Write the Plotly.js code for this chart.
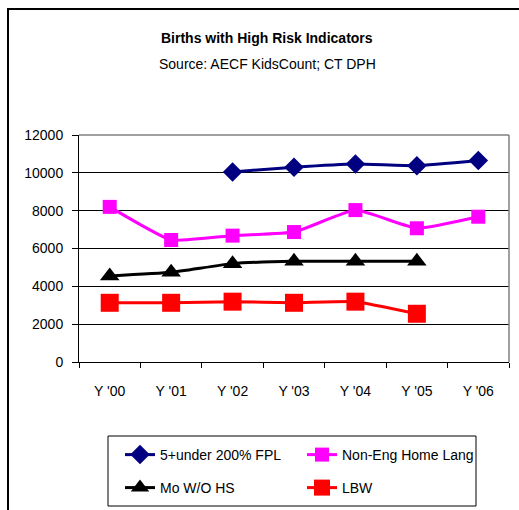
<!DOCTYPE html>
<html><head><meta charset="utf-8">
<script src="https://cdn.plot.ly/plotly-3.0.1.min.js"></script>
<style>html,body{margin:0;padding:0;background:#fff;overflow:hidden}</style>
</head><body>
<div id="chart" style="width:519px;height:510px"></div>
<script>
const years = ["Y '00", "Y '01", "Y '02", "Y '03", "Y '04", "Y '05", "Y '06"];
const fpl = [null, null, 10050, 10300, 10470, 10380, 10650];
const nonEng = [8200, 6450, 6680, 6870, 8030, 7070, 7680];
const moNoHS = [4550, 4740, 5200, 5320, 5320, 5320, null];
const lbw = [3130, 3130, 3190, 3130, 3190, 2550, null];
const yTicks = [0, 2000, 4000, 6000, 8000, 10000, 12000];

const font = {family: 'Liberation Sans, Arial, sans-serif', size: 14, color: '#000'};
const px = v => (v - 79) / 430;
const py = v => (362 - v) / 227;
const mk = (name, y, color, symbol, size, lg) => ({
  x: years, y: y, name: name, type: 'scatter', mode: 'lines+markers',
  line: {color: color, width: 3, shape: 'spline', smoothing: 0.4},
  marker: {color: color, symbol: symbol, size: size},
  connectgaps: false, legend: lg
});
const data = [
  mk('5+under 200% FPL', fpl, '#000080', 'diamond', 15, 'legend'),
  mk('Non-Eng Home Lang', nonEng, '#FF00FF', 'square', 14, 'legend'),
  mk('Mo W/O HS', moNoHS, '#000000', 'triangle-up', 17, 'legend2'),
  mk('LBW', lbw, '#FF0000', 'square', 18, 'legend2')
];
const legendBase = {
  orientation: 'h', xanchor: 'left', yanchor: 'middle',
  borderwidth: 0, bgcolor: 'rgba(0,0,0,0)', font: font,
  entrywidth: 137, entrywidthmode: 'pixels', traceorder: 'normal'
};
const layout = {
  width: 519, height: 510,
  margin: {l: 79, r: 10, t: 135, b: 148, autoexpand: false},
  paper_bgcolor: '#fff', plot_bgcolor: '#fff',
  font: font,
  showlegend: true,
  annotations: [
    {text: '<b>Births with High Risk Indicators</b>', xref: 'paper', yref: 'paper', x: px(267), y: py(38), showarrow: false, font: {family: font.family, size: 14}, xanchor: 'center', yanchor: 'middle'},
    {text: 'Source: AECF KidsCount; CT DPH', xref: 'paper', yref: 'paper', x: px(267), y: py(64), showarrow: false, font: {family: font.family, size: 14}, xanchor: 'center', yanchor: 'middle'}
  ],
  xaxis: {
    type: 'category', tickson: 'boundaries', ticks: 'outside', ticklen: 5, tickcolor: '#000',
    showline: true, linecolor: '#000', linewidth: 1, showgrid: false,
    ticklabelstandoff: 16, tickfont: font, range: [-0.5, 6.5], fixedrange: true
  },
  yaxis: {
    range: [0, 12000], tickvals: yTicks, ticktext: yTicks.map(String),
    ticks: 'outside', ticklen: 6, tickcolor: '#000',
    showline: true, linecolor: '#000', linewidth: 1,
    showgrid: true, gridcolor: '#000', gridwidth: 1, zeroline: false,
    ticklabelstandoff: 6, tickfont: font
  },
  legend: Object.assign({}, legendBase, {x: px(120), y: py(455)}),
  legend2: Object.assign({}, legendBase, {x: px(120), y: py(488)}),
  shapes: [
    {type: 'line', xref: 'paper', yref: 'paper', x0: 0, x1: 1, y0: 1, y1: 1, line: {color: '#808080', width: 1.5}},
    {type: 'line', xref: 'paper', yref: 'paper', x0: 1, x1: 1, y0: 0, y1: 1, line: {color: '#808080', width: 1.5}},
    {type: 'rect', xref: 'paper', yref: 'paper', x0: px(108), x1: px(476), y0: py(506), y1: py(436), line: {color: '#000', width: 1}},
    {type: 'rect', xref: 'paper', yref: 'paper', x0: px(8), x1: 1.2, y0: -1, y1: py(9), line: {color: '#000', width: 2}, layer: 'below'}
  ]
};
Plotly.newPlot('chart', data, layout, {displayModeBar: false, staticPlot: true});
</script>
</body></html>
